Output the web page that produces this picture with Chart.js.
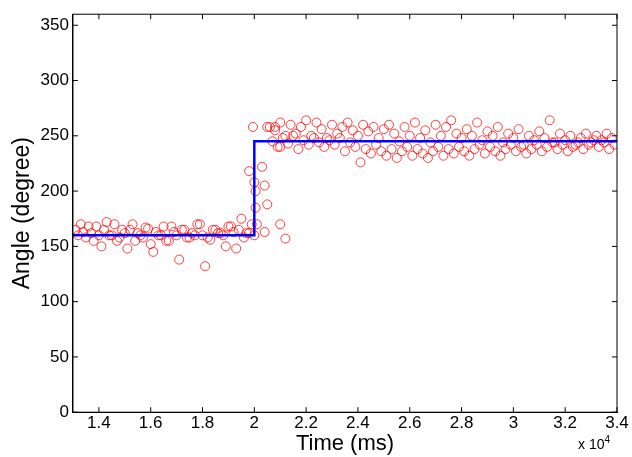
<!DOCTYPE html>
<html>
<head>
<script src="https://cdn.jsdelivr.net/npm/chart.js@4"></script>
<style>
body { margin: 0; background: #fff; }
#wrap { width: 632px; height: 457px; position: relative; }
#exp { position: absolute; left: 578px; top: 434px; font: 14px "Liberation Sans", Arial; }
</style>
</head>
<body>
<div id="wrap"><canvas id="myChart" width="632" height="457"></canvas>
<div id="exp">x 10<sup style="font-size:10px">4</sup></div></div>
<script>
var preTimes = [13100,13300,13500,13700,13900,14100,14300,14500,14700,14900,15100,15300,15500,15700,15900,16100,16300,16500,16700,16900,17100,17300,17500,17700,17900,18100,18300,18500,18700,18900,19100,19300,19500,19700,19900];
var preA = [165,170,158,162,168,150,172,160,155,165,148,170,162,158,166,145,160,168,155,163,138,165,158,160,170,132,156,165,162,150,168,148,175,162,170];
var preB = [160,163,168,155,160,165,160,170,158,162,165,155,160,167,152,163,160,155,168,160,165,158,162,170,160,158,165,162,160,168,163,165,158,162,160];
var midTimes = [19800,19950,20000,20050,20050,20100,20300,20400,20400,20500,20500,20800,21000,21000,21200];
var midVals = [218,258,208,185,200,170,222,205,163,188,258,258,170,240,157];
var postTimes = [20600,20800,21000,21200,21400,21600,21800,22000,22200,22400,22600,22800,23000,23200,23400,23600,23800,24000,24200,24400,24600,24800,25000,25200,25400,25600,25800,26000,26200,26400,26600,26800,27000,27200,27400,27600,27800,28000,28200,28400,28600,28800,29000,29200,29400,29600,29800,30000,30200,30400,30600,30800,31000,31200,31400,31600,31800,32000,32200,32400,32600,32800,33000,33200,33400,33600,33800];
var postA = [258,255,262,250,260,252,258,264,250,262,256,248,260,252,258,262,255,250,260,254,258,248,256,260,252,245,258,250,262,248,255,244,260,250,258,264,252,248,256,250,262,246,254,250,258,244,252,248,256,242,250,246,254,248,264,244,252,246,250,242,248,252,244,250,246,252,248];
var postB = [245,240,248,243,250,238,246,242,248,244,240,246,242,248,236,244,240,226,238,234,242,236,232,238,230,236,240,232,238,234,230,236,240,232,238,234,240,236,232,238,242,234,240,236,232,238,242,236,240,234,238,242,236,240,244,238,242,236,240,244,238,242,246,240,244,238,242];
var stepTimes = [13000,20000,20000,34000];
var stepVals = [160,160,245,245];

var pts = [];
var add = function (t, v, dt) {
    for (var i = 0; i < t.length; i++) pts.push({x: t[i] + dt, y: v[i]});
};
add(preTimes, preA, 0);
add(preTimes, preB, 100);
add(midTimes, midVals, 0);
add(postTimes, postA, 0);
add(postTimes, postB, 100);

var line = [];
for (var i = 0; i < stepTimes.length; i++) line.push({x: stepTimes[i], y: stepVals[i]});

var ctx = document.getElementById("myChart").getContext("2d");
var f = "'Liberation Sans', Arial, sans-serif";
new Chart(ctx, {
    type: 'scatter',
    data: {
        datasets: [{
            data: line, showLine: true, borderColor: "#0000ff", borderWidth: 2.5,
            pointRadius: 0, fill: false, order: 0
        }, {
            data: pts, borderColor: "rgba(255,0,0,0.75)", backgroundColor: "transparent",
            borderWidth: 1, pointRadius: 4.5, order: 1
        }]
    },
    options: {
        animation: false, responsive: false,
        layout: { padding: { left: 9, right: 15, top: 6, bottom: 0 } },
        plugins: { legend: { display: false }, tooltip: { enabled: false } },
        scales: {
            x: {
                type: 'linear', min: 13000, max: 34000,
                afterBuildTicks: function (s) {
                    s.ticks = [14000,16000,18000,20000,22000,24000,26000,28000,30000,32000,34000].map(function (v) { return {value: v}; });
                },
                ticks: { color: "#000", font: { family: f, size: 17 }, padding: 1 },
                grid: { display: false, drawTicks: false },
                border: { color: "#000" },
                title: { display: true, text: "Time (ms)", color: "#000", font: { family: f, size: 22 }, padding: { top: -4, bottom: 0 } }
            },
            y: {
                min: 0, max: 360,
                afterBuildTicks: function (s) {
                    s.ticks = [0,50,100,150,200,250,300,350].map(function (v) { return {value: v}; });
                },
                ticks: { color: "#000", font: { family: f, size: 17 }, padding: 4 },
                grid: { display: false, drawTicks: false },
                border: { color: "#000" },
                title: { display: true, text: "Angle (degree)", color: "#000", font: { family: f, size: 23 }, padding: 0 }
            }
        }
    },
    plugins: [{
        id: 'box',
        beforeInit: function (c) {
            c.options.scales.x.ticks.callback = function (v) { return String(v / 10000); };
        },
        afterDraw: function (c) {
            var a = c.chartArea, g = c.ctx;
            g.save();
            g.strokeStyle = "#000"; g.lineWidth = 1;
            g.strokeRect(a.left, a.top, a.right - a.left, a.bottom - a.top);
            g.beginPath();
            c.scales.x.ticks.forEach(function (t) {
                var x = c.scales.x.getPixelForValue(t.value);
                g.moveTo(x, a.bottom); g.lineTo(x, a.bottom - 5);
                g.moveTo(x, a.top); g.lineTo(x, a.top + 5);
            });
            c.scales.y.ticks.forEach(function (t) {
                var y = c.scales.y.getPixelForValue(t.value);
                g.moveTo(a.left, y); g.lineTo(a.left + 5, y);
                g.moveTo(a.right, y); g.lineTo(a.right - 5, y);
            });
            g.stroke();
            g.restore();
        }
    }]
});
</script>
</body>
</html>
